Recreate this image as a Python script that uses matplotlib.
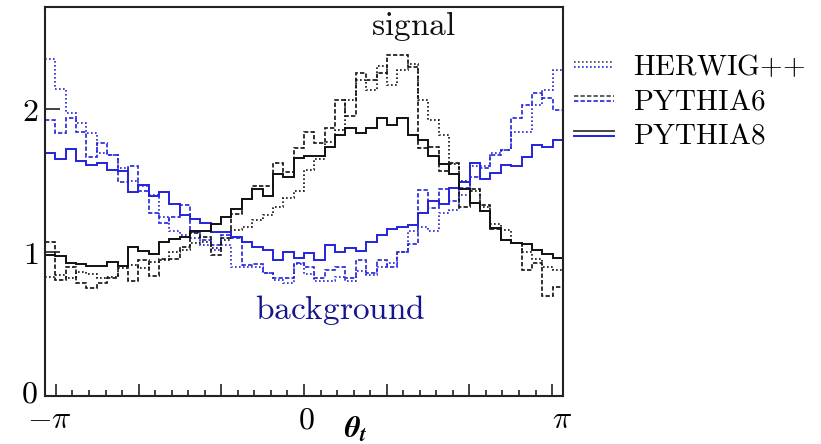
import numpy as np
import matplotlib
matplotlib.use("Agg")
import matplotlib.pyplot as plt
from matplotlib.lines import Line2D
from matplotlib.legend_handler import HandlerBase
from matplotlib.transforms import ScaledTranslation

plt.rcParams['mathtext.fontset'] = 'cm'

## Histogram range and binning (50 bins over the full axis range).
x_lo, x_hi = -3.28, 3.28
n_bins = 50

## Signal distributions (black).
sig_herwig = [0.83, 0.845, 0.82, 0.865, 0.85, 0.82, 0.83, 0.89, 0.915, 0.89,
              0.935, 0.95, 1.005, 1.015, 1.065, 1.075, 1.03, 1.09, 1.155, 1.18,
              1.225, 1.26, 1.32, 1.38, 1.43, 1.575, 1.65, 1.77, 1.85, 2.06,
              2.20, 2.13, 2.30, 2.17, 2.27, 2.31, 2.06, 1.925, 1.815, 1.615,
              1.50, 1.425, 1.32, 1.20, 1.155, 1.065, 1.00, 0.955, 0.90, 0.875]
sig_pythia6 = [1.07, 0.81, 0.90, 0.785, 0.75, 0.79, 0.82, 0.905, 0.80, 0.95,
               0.835, 0.955, 0.955, 1.035, 1.135, 1.11, 0.98, 1.10, 1.27, 1.37,
               1.46, 1.46, 1.625, 1.56, 1.73, 1.84, 1.76, 1.87, 2.06, 1.95,
               2.25, 2.20, 2.25, 2.375, 2.375, 2.29, 1.725, 1.735, 1.565, 1.625,
               1.32, 1.445, 1.33, 1.165, 1.085, 1.065, 0.88, 0.925, 0.695, 0.76]
sig_pythia8 = [0.98, 0.975, 0.93, 0.92, 0.905, 0.905, 0.935, 0.905, 1.035, 1.01,
               0.99, 1.075, 1.095, 1.11, 1.15, 1.15, 1.20, 1.245, 1.30, 1.37,
               1.445, 1.39, 1.545, 1.525, 1.655, 1.67, 1.675, 1.735, 1.815, 1.865,
               1.83, 1.865, 1.935, 1.885, 1.935, 1.82, 1.78, 1.67, 1.615, 1.55,
               1.445, 1.345, 1.29, 1.17, 1.085, 1.065, 1.06, 1.02, 0.99, 0.96]

## Background distributions (blue).
bkg_herwig = [2.35, 2.14, 1.97, 1.90, 1.835, 1.69, 1.68, 1.59, 1.50, 1.46,
              1.40, 1.25, 1.15, 1.12, 1.10, 1.05, 1.02, 1.05, 0.90, 0.90,
              0.90, 0.855, 0.81, 0.785, 0.92, 0.85, 0.80, 0.80, 0.83, 0.80,
              0.87, 0.84, 0.90, 0.93, 1.00, 1.15, 1.18, 1.15, 1.275, 1.295,
              1.40, 1.60, 1.60, 1.69, 1.715, 1.84, 1.84, 2.03, 2.13, 2.27]
bkg_pythia6 = [1.92, 1.835, 1.935, 1.84, 1.665, 1.765, 1.68, 1.49, 1.60, 1.43,
               1.275, 1.205, 1.25, 1.33, 1.14, 1.09, 1.05, 1.12, 1.10, 0.91,
               0.92, 0.86, 0.82, 0.82, 0.93, 0.90, 0.82, 0.88, 0.90, 0.82,
               0.95, 0.86, 0.95, 0.90, 1.00, 1.06, 1.435, 1.31, 1.445, 1.355,
               1.45, 1.525, 1.585, 1.68, 1.715, 1.935, 2.03, 2.11, 2.075, 1.995]
bkg_pythia8 = [1.69, 1.65, 1.72, 1.64, 1.61, 1.62, 1.575, 1.565, 1.42, 1.47,
               1.39, 1.42, 1.335, 1.26, 1.23, 1.205, 1.145, 1.145, 1.11, 1.075,
               1.04, 1.015, 0.945, 1.005, 0.96, 0.995, 0.95, 1.05, 1.00, 1.03,
               1.01, 1.07, 1.12, 1.16, 1.18, 1.19, 1.275, 1.355, 1.34, 1.45,
               1.49, 1.62, 1.51, 1.555, 1.61, 1.60, 1.665, 1.75, 1.735, 1.785]

generators = [r'$\mathrm{HERWIG}{+}{+}$', r'$\mathrm{PYTHIA6}$', r'$\mathrm{PYTHIA8}$']

BLACK = '#111111'
BLUE = '#2323dd'
NAVY = '#16168c'
styles = [(0, (1.0, 1.4)), (0, (2.6, 1.3)), '-']
widths = [1.2, 1.2, 1.4]

edges = np.linspace(x_lo, x_hi, n_bins + 1)

fig = plt.figure(figsize=(8.21, 4.44), dpi=100)
ax = fig.add_axes([45/821, 48/444, 518/821, 389/444])

sig_sets = [sig_herwig, sig_pythia6, sig_pythia8]
bkg_sets = [bkg_herwig, bkg_pythia6, bkg_pythia8]
handles = []
for sig, bkg, ls, lw in zip(sig_sets, bkg_sets, styles, widths):
    ax.stairs(bkg, edges, color=BLUE, linestyle=ls, linewidth=lw, baseline=None)
    ax.stairs(sig, edges, color=BLACK, linestyle=ls, linewidth=lw, baseline=None)
    handles.append((Line2D([], [], color='#444444', linestyle=ls, linewidth=lw),
                    Line2D([], [], color=BLUE, linestyle=ls, linewidth=lw)))

ax.set_xlim(x_lo, x_hi)
ax.set_ylim(0, 2.71)

## Ticks: majors every pi/3, minors every pi/15, labels only at -pi, 0, pi.
major = np.linspace(-np.pi, np.pi, 7)
ax.set_xticks(major)
ax.set_xticklabels([r'$-\pi$', '', '', r'$0$', '', '', r'$\pi$'])
ax.set_xticks(np.linspace(-np.pi, np.pi, 31), minor=True)
ax.set_yticks([0, 1, 2])
ax.set_yticklabels([r'$0$', r'$1$', r'$2$'])
ax.tick_params(axis='both', which='both', direction='in', top=False, right=False,
               width=1.2, labelsize=23, color='#222222')
ax.tick_params(axis='x', which='major', length=8.5, pad=6)
ax.tick_params(axis='x', which='minor', length=4.5)
ax.tick_params(axis='y', which='major', length=11, pad=5)
ax.tick_params(axis='y', which='minor', left=False)
for s in ax.spines.values():
    s.set_linewidth(1.5)
    s.set_color('#222222')

## Nudge the -pi / pi labels outward like in the original.
shifts = {0: -0.06, 3: 0.02, 6: 0.10}
for i, lab in enumerate(ax.get_xticklabels()):
    if i in shifts:
        lab.set_transform(lab.get_transform() + ScaledTranslation(shifts[i], 0, fig.dpi_scale_trans))
## Lift the y "0" slightly, as in the original.
ylabs = ax.get_yticklabels()
ylabs[0].set_transform(ylabs[0].get_transform() + ScaledTranslation(0, 0.06, fig.dpi_scale_trans))

ax.set_xlabel(r'$\boldsymbol{\theta}_{\boldsymbol{t}}$', fontsize=22, math_fontfamily='stix')
ax.xaxis.set_label_coords(0.60, -0.085)
ax.xaxis.label.set_va('center')

ax.text(0.712, 0.95, r'$\mathrm{signal}$', transform=ax.transAxes, fontsize=24,
        ha='center', va='center', color=BLACK)
ax.text(0.57, 0.22, r'$\mathrm{background}$', transform=ax.transAxes, fontsize=24,
        ha='center', va='center', color=NAVY)


class PairHandler(HandlerBase):
    """Draw a black and a blue sample line, one above the other."""
    def create_artists(self, legend, orig_handle, xdescent, ydescent, width, height,
                       fontsize, trans):
        out = []
        for h, frac in zip(orig_handle, (0.62, 0.38)):
            ln = Line2D([-xdescent, width - xdescent], [frac * height - ydescent] * 2)
            ln.update_from(h)
            ln.set_transform(trans)
            out.append(ln)
        return out


leg = ax.legend(handles, generators, handler_map={tuple: PairHandler()},
                loc='upper left', bbox_to_anchor=(0.981, 0.935), frameon=False,
                fontsize=21, handlelength=1.38, handletextpad=0.65,
                labelspacing=0.22, borderaxespad=0.3)

fig.savefig('out.png', dpi=100)
